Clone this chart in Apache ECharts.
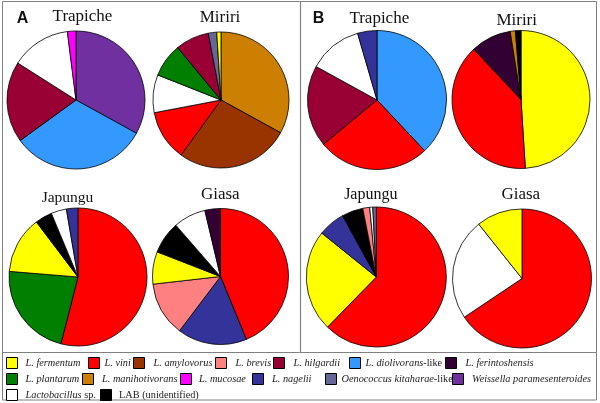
<!DOCTYPE html>
<html><head><meta charset="utf-8">
<script src="https://cdn.jsdelivr.net/npm/echarts@6/dist/echarts.min.js"></script>
<style>html,body{margin:0;padding:0;background:#fff}#c{width:600px;height:403px}</style>
</head><body><div id="c"></div>
<script>
// Species (legend order) and colours
const species = ['L. fermentum','L. vini','L. amylovorus','L. brevis','L. hilgardii','L. diolivorans-like','L. ferintoshensis',
  'L. plantarum','L. manihotivorans','L. mucosae','L. nagelii','Oenococcus kitaharae-like','Weissella paramesenteroides',
  'Lactobacillus sp.','LAB (unidentified)'];
const speciesColors = ['#FFFF00','#FF0000','#993300','#FF8080','#990033','#3399FF','#330033',
  '#007F00','#CC7F00','#FF00FF','#333399','#666699','#7030A0','#FFFFFF','#000000'];

// Panel A
const trapicheA_names = ['Weissella paramesenteroides','L. diolivorans-like','L. hilgardii','Lactobacillus sp.','L. mucosae'];
const trapicheA_values = [33, 32, 19, 14, 2];
const miririA_names = ['L. manihotivorans','L. amylovorus','L. vini','Lactobacillus sp.','L. plantarum','L. hilgardii','Oenococcus kitaharae-like','L. fermentum'];
const miririA_values = [33, 27, 12, 9, 8, 8, 2, 1];
const japunguA_names = ['L. vini','L. plantarum','L. fermentum','LAB (unidentified)','Lactobacillus sp.','L. nagelii'];
const japunguA_values = [54, 22.3, 13.4, 4, 3.6, 2.7];
const giasaA_names = ['L. vini','L. nagelii','L. brevis','L. fermentum','LAB (unidentified)','Lactobacillus sp.','L. ferintoshensis'];
const giasaA_values = [43.8, 16.5, 12.9, 7.7, 7.7, 7.7, 3.7];

// Panel B
const trapicheB_names = ['L. diolivorans-like','L. vini','L. hilgardii','Lactobacillus sp.','L. nagelii'];
const trapicheB_values = [38, 26, 19, 12.5, 4.5];
const miririB_names = ['L. fermentum','L. vini','L. ferintoshensis','L. manihotivorans','LAB (unidentified)'];
const miririB_values = [49, 39, 9.5, 1.2, 1.3];
const japunguB_names = ['L. vini','L. fermentum','L. nagelii','LAB (unidentified)','L. brevis','Lactobacillus sp.','Oenococcus kitaharae-like'];
const japunguB_values = [62.3, 23.5, 6.2, 4.9, 1.6, 0.7, 0.8];
const giasaB_names = ['L. vini','Lactobacillus sp.','L. fermentum'];
const giasaB_values = [65.6, 23.7, 10.7];

const pieTitles = ['Trapiche','Miriri','Japungu','Giasa','Trapiche','Miriri','Japungu','Giasa'];

const colorOf = n => speciesColors[species.indexOf(n)];
function mk(names, values){ return names.map((n,i)=>({name:n, value:values[i], itemStyle:{color:colorOf(n)}})); }

const pies = [
  {names:trapicheA_names, values:trapicheA_values, c:[76,100], r:69},
  {names:miririA_names, values:miririA_values, c:[221,100], r:68},
  {names:japunguA_names, values:japunguA_values, c:[78,277], r:69},
  {names:giasaA_names, values:giasaA_values, c:[220.5,276.5], r:68},
  {names:trapicheB_names, values:trapicheB_values, c:[377,100], r:69.5},
  {names:miririB_names, values:miririB_values, c:[521,99.5], r:69},
  {names:japunguB_names, values:japunguB_values, c:[376.3,277], r:70},
  {names:giasaB_names, values:giasaB_values, c:[522,278.5], r:69.5}
];

const series = pies.map((p,i)=>({
  type:'pie', name:pieTitles[i], center:p.c, radius:p.r, startAngle:90, clockwise:true,
  label:{show:false}, labelLine:{show:false}, emphasis:{disabled:true}, silent:true,
  itemStyle:{borderColor:'#000', borderWidth:0.8},
  data: mk(p.names, p.values)
}));

// legend layout: [name, swatch left, swatch top, text start]
const legendPos = [
  ['L. fermentum',6,357,25],['L. vini',88,357,101.5],['L. amylovorus',133,357,153],['L. brevis',215,357,235],['L. hilgardii',273,357,293],['L. diolivorans-like',349,357,363.5],['L. ferintoshensis',445,357,465],
  ['L. plantarum',6,373,25],['L. manihotivorans',82,373,101.5],['L. mucosae',180,373,198.5],['L. nagelii',252,373,271.5],['Oenococcus kitaharae-like',325,373,339.5],['Weissella paramesenteroides',452,373,471.5],
  ['Lactobacillus sp.',6,389,25],['LAB (unidentified)',100,389,118.5]
];
function fmt(n){
  if(n.endsWith('-like')) return '{i|'+n.slice(0,-5)+'}{n|-like}';
  if(n==='Lactobacillus sp.') return '{i|Lactobacillus}{n| sp.}';
  if(n==='LAB (unidentified)') return '{n|LAB (unidentified)}';
  return '{i|'+n+'}';
}
const legends = legendPos.map(([n,x,y,tx])=>({
  data:[n], left:x, top:y, padding:0, icon:'rect', itemWidth:11, itemHeight:11, selectedMode:false,
  itemStyle:{borderColor:'#000', borderWidth:1},
  formatter: fmt,
  textStyle:{padding:[0,0,0,Math.max(0, tx - x - 16)], rich:{
    i:{fontFamily:'Liberation Serif', fontStyle:'italic', fontSize:10.3, color:'#222'},
    n:{fontFamily:'Liberation Serif', fontSize:10.3, color:'#222'}
  }}
}));

const tpos = [[82.5,17],[220,17.5],[67.5,198],[220.3,195],[379.3,19],[516.7,21],[370.8,194.5],[520.8,194.5]];
const tsize = [17,17,15.5,17,17,17,16,17];
const titleGraphics = pieTitles.map((t,i)=>({type:'text', x:tpos[i][0], y:tpos[i][1],
  style:{text:t, fill:'#111', font: tsize[i]+'px "Liberation Serif"', align:'center', verticalAlign:'middle'}}));

const chart = echarts.init(document.getElementById('c'), null, {renderer:'canvas'});
chart.setOption({
  animation:false,
  legend: legends,
  series: series,
  graphic: [
    {type:'rect', shape:{x:2.5,y:1.5,width:594,height:398.5}, style:{fill:'none', stroke:'#808080', lineWidth:1}},
    {type:'line', shape:{x1:300.5,y1:1.5,x2:300.5,y2:352.5}, style:{stroke:'#808080', lineWidth:1.2}},
    {type:'line', shape:{x1:2.5,y1:352.5,x2:596.5,y2:352.5}, style:{stroke:'#808080', lineWidth:1}},
    {type:'text', x:22.5, y:19, style:{text:'A', fill:'#111', font:'bold 16px "Liberation Sans"', align:'center', verticalAlign:'middle'}},
    {type:'text', x:318.5, y:19, style:{text:'B', fill:'#111', font:'bold 16px "Liberation Sans"', align:'center', verticalAlign:'middle'}}
  ].concat(titleGraphics)
});
</script></body></html>
